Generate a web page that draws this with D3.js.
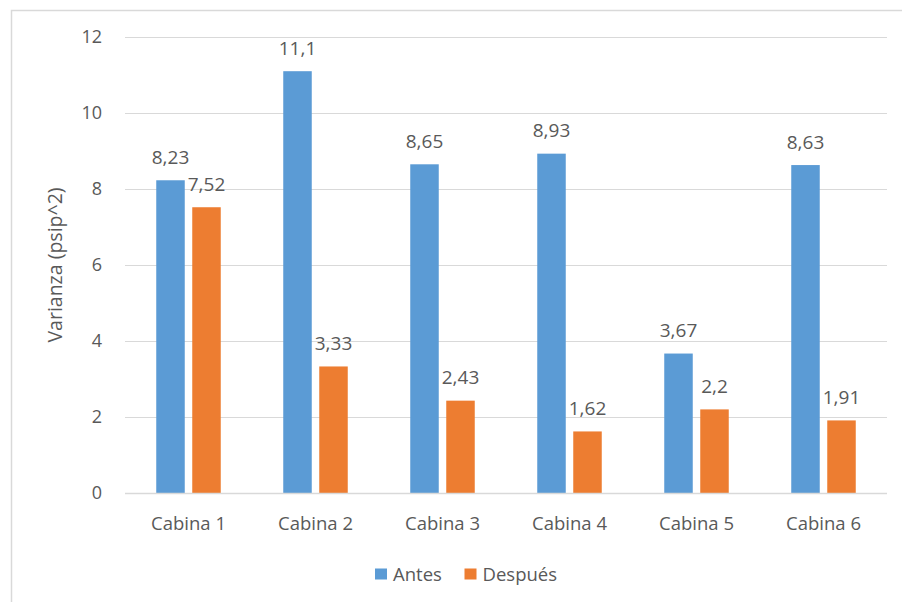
<!DOCTYPE html>
<html>
<head>
<meta charset="utf-8">
<script src="https://cdn.jsdelivr.net/npm/d3@7"></script>
<style>
  html, body { margin: 0; padding: 0; background: #fff; }
  svg { display: block; }
  text { font-family: "Open Sans", Lato, sans-serif; fill: #595959; }
</style>
</head>
<body>
<svg id="chart" width="902" height="602"></svg>
<script>
const categories = ["Cabina 1", "Cabina 2", "Cabina 3", "Cabina 4", "Cabina 5", "Cabina 6"];
const seriesNames = ["Antes", "Después"];
const antes = [8.23, 11.1, 8.65, 8.93, 3.67, 8.63];
const despues = [7.52, 3.33, 2.43, 1.62, 2.2, 1.91];
const yTicks = [0, 2, 4, 6, 8, 10, 12];
const colors = ["#5b9bd5", "#ed7d31"];

const svg = d3.select("#chart");
const W = 902, H = 602;
const m = { left: 125, right: 15, top: 37, bottom: 109 };

// outer chart border
svg.append("rect")
  .attr("x", 11.5).attr("y", 10.5)
  .attr("width", W).attr("height", H)
  .attr("fill", "none").attr("stroke", "#d9d9d9").attr("stroke-width", 1.5);

const x0 = d3.scaleBand().domain(categories).range([m.left, W - m.right]);
const y = d3.scaleLinear().domain([0, 12]).range([H - m.bottom, m.top]);

const fmt = v => String(v).replace(".", ",");

// gridlines
svg.append("g").selectAll("line").data(yTicks.filter(d => d > 0)).join("line")
  .attr("x1", m.left).attr("x2", W - m.right)
  .attr("y1", d => Math.round(y(d)) + 0.5).attr("y2", d => Math.round(y(d)) + 0.5)
  .attr("stroke", "#d9d9d9").attr("stroke-width", 1);

// y tick labels
svg.append("g").selectAll("text").data(yTicks).join("text")
  .attr("x", 102).attr("y", d => y(d))
  .attr("dy", "0.36em")
  .attr("text-anchor", "end")
  .style("font-size", "18px")
  .text(d => d);

// y axis title
svg.append("text")
  .attr("transform", `translate(62,${(y(0) + y(12)) / 2}) rotate(-90)`)
  .attr("text-anchor", "middle")
  .style("font-size", "19.5px")
  .text("Varianza (psip^2)");

// bars
const barW = 28.5, gap = 7.5;
const data = categories.map((c, i) => ({ c, vals: [antes[i], despues[i]] }));
const groups = svg.append("g").selectAll("g").data(data).join("g")
  .attr("transform", d => `translate(${x0(d.c) + x0.bandwidth() / 2},0)`);

groups.selectAll("rect").data(d => d.vals.map((v, k) => ({ v, k }))).join("rect")
  .attr("x", d => d.k === 0 ? -gap / 2 - barW : gap / 2)
  .attr("width", barW)
  .attr("y", d => y(d.v))
  .attr("height", d => y(0) - y(d.v))
  .attr("fill", d => colors[d.k]);

groups.selectAll("text.lbl").data(d => d.vals.map((v, k) => ({ v, k }))).join("text")
  .attr("class", "lbl")
  .attr("x", d => (d.k === 0 ? -gap / 2 - barW : gap / 2) + barW / 2)
  .attr("y", d => y(d.v) - 16.5)
  .attr("text-anchor", "middle")
  .style("font-size", "19px")
  .text(d => fmt(d.v));

// baseline
svg.append("line")
  .attr("x1", m.left).attr("x2", W - m.right)
  .attr("y1", Math.round(y(0)) + 0.5).attr("y2", Math.round(y(0)) + 0.5)
  .attr("stroke", "#d9d9d9").attr("stroke-width", 1.5);

// category labels
svg.append("g").selectAll("text").data(categories).join("text")
  .attr("x", d => x0(d) + x0.bandwidth() / 2)
  .attr("y", 530)
  .attr("text-anchor", "middle")
  .style("font-size", "18.5px")
  .text(d => d);

// legend
const legend = svg.append("g");
const legX = [375, 464.5];
seriesNames.forEach((s, i) => {
  legend.append("rect")
    .attr("x", legX[i]).attr("y", 568.5)
    .attr("width", 12).attr("height", 11)
    .attr("fill", colors[i]);
  legend.append("text")
    .attr("x", legX[i] + 18).attr("y", 580.5)
    .style("font-size", "18.5px")
    .text(s);
});
</script>
</body>
</html>
